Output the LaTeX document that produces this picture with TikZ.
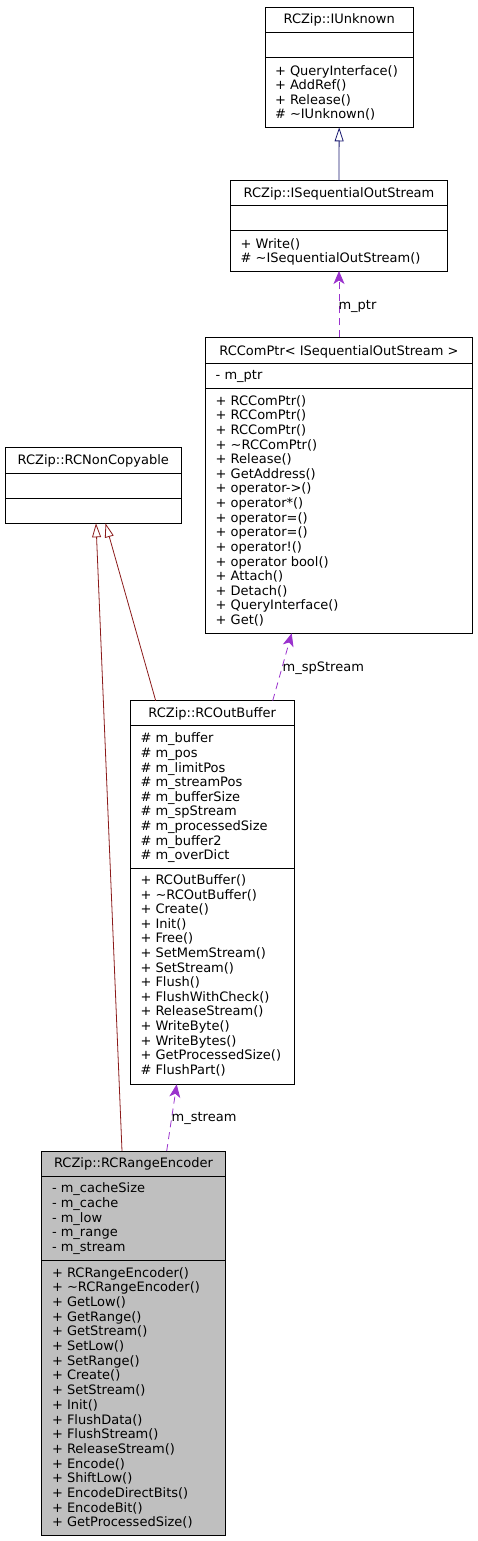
\documentclass[tikz,border=0pt]{standalone}
\usepackage{fontspec}
\setmainfont{DejaVu Sans}
\usetikzlibrary{arrows.meta,calc}
\definecolor{navyc}{HTML}{191970}
\definecolor{redc}{HTML}{8B1A1A}
\definecolor{purplec}{HTML}{9A32CD}
\definecolor{grayc}{HTML}{BFBFBF}
\tikzset{
 box/.style={draw=black, line width=0.8pt, rectangle, inner sep=0pt, outer sep=0pt, anchor=north west, fill=white},
 divl/.style={draw=black, line width=0.8pt},
 txt/.style={inner sep=0pt, outer sep=0pt, anchor=base west, font=\fontsize{13}{14.6}\selectfont, text=black},
 ttl/.style={txt, anchor=base},
 pubinh/.style={draw=navyc, line width=0.8pt, -{Triangle[fill=white, length=14pt, width=9pt]}},
 privinh/.style={draw=redc, line width=0.8pt, -{Triangle[fill=white, length=14pt, width=9pt]}},
 usage/.style={draw=purplec, line width=0.8pt, dash pattern=on 7pt off 5pt, -{Stealth[length=13pt, width=11pt, inset=3.5pt]}},
}
\begin{document}
\begin{tikzpicture}[x=1pt,y=-1pt]
\useasboundingbox (0,0) rectangle (477,1541);

% ---- RCZip::IUnknown
\node[box, minimum width=148.3pt, minimum height=120pt] (iu) at (265,7.3) {};
\draw[divl] (265,32.3) -- (413.3,32.3);
\draw[divl] (265,57.3) -- (413.3,57.3);
\node[ttl] (iu-t) at (339.2,23.5) {RCZip::IUnknown};
\foreach \t [count=\i from 0] in {+ QueryInterface(), + AddRef(), + Release(), \# \textasciitilde IUnknown()}
  \node[txt] (iu-m\i) at (275,{75.2+\i*14.6}) {\t};

% ---- RCZip::ISequentialOutStream
\node[box, minimum width=216.6pt, minimum height=90.3pt] (iseq) at (230.7,180.7) {};
\draw[divl] (230.7,205.3) -- (447.3,205.3);
\draw[divl] (230.7,230.7) -- (447.3,230.7);
\node[ttl] (iseq-t) at (339,197.2) {RCZip::ISequentialOutStream};
\foreach \t [count=\i from 0] in {+ Write(), \# \textasciitilde ISequentialOutStream()}
  \node[txt] (iseq-m\i) at (240.7,{248.2+\i*14.6}) {\t};

% ---- RCComPtr< ISequentialOutStream >
\node[box, minimum width=266.6pt, minimum height=296pt] (ptr) at (205.7,337.3) {};
\draw[divl] (205.7,363.3) -- (472.3,363.3);
\draw[divl] (205.7,388.3) -- (472.3,388.3);
\node[ttl] (ptr-t) at (339,355.2) {RCComPtr< ISequentialOutStream >};
\node[txt] (ptr-a0) at (215.7,379.5) {- m\_ptr};
\foreach \t [count=\i from 0] in {+ RCComPtr(), + RCComPtr(), + RCComPtr(), + \textasciitilde RCComPtr(), + Release(), + GetAddress(), + operator->(), + operator*(), + operator=(), + operator=(), + operator!(), + operator bool(), + Attach(), + Detach(), + QueryInterface(), + Get()}
  \node[txt] (ptr-m\i) at (215.7,{405.2+\i*14.62}) {\t};

% ---- RCZip::RCNonCopyable
\node[box, minimum width=176pt, minimum height=76pt] (nc) at (5.3,447.3) {};
\draw[divl] (5.3,473.3) -- (181.3,473.3);
\draw[divl] (5.3,498.3) -- (181.3,498.3);
\node[ttl] (nc-t) at (93.3,464.5) {RCZip::RCNonCopyable};

% ---- RCZip::RCOutBuffer
\node[box, minimum width=164.3pt, minimum height=383.6pt] (ob) at (130,700.7) {};
\draw[divl] (130,725) -- (294.3,725);
\draw[divl] (130,868.3) -- (294.3,868.3);
\node[ttl] (ob-t) at (212.2,717.2) {RCZip::RCOutBuffer};
\foreach \t [count=\i from 0] in {\# m\_buffer, \# m\_pos, \# m\_limitPos, \# m\_streamPos, \# m\_bufferSize, \# m\_spStream, \# m\_processedSize, \# m\_buffer2, \# m\_overDict}
  \node[txt] (ob-a\i) at (140.5,{742.8+\i*14.6}) {\t};
\foreach \t [count=\i from 0] in {+ RCOutBuffer(), + \textasciitilde RCOutBuffer(), + Create(), + Init(), + Free(), + SetMemStream(), + SetStream(), + Flush(), + FlushWithCheck(), + ReleaseStream(), + WriteByte(), + WriteBytes(), + GetProcessedSize(), \# FlushPart()}
  \node[txt] (ob-m\i) at (140.5,{884.5+\i*14.6}) {\t};

% ---- RCZip::RCRangeEncoder
\node[box, fill=grayc, minimum width=183.6pt, minimum height=384pt] (rre) at (41.7,1151) {};
\draw[divl] (41.7,1176.7) -- (225.3,1176.7);
\draw[divl] (41.7,1260.7) -- (225.3,1260.7);
\node[ttl] (rre-t) at (133.5,1167.2) {RCZip::RCRangeEncoder};
\foreach \t [count=\i from 0] in {- m\_cacheSize, - m\_cache, - m\_low, - m\_range, - m\_stream}
  \node[txt] (rre-a\i) at (52,{1192.8+\i*14.6}) {\t};
\foreach \t [count=\i from 0] in {+ RCRangeEncoder(), + \textasciitilde RCRangeEncoder(), + GetLow(), + GetRange(), + GetStream(), + SetLow(), + SetRange(), + Create(), + SetStream(), + Init(), + FlushData(), + FlushStream(), + ReleaseStream(), + Encode(), + ShiftLow(), + EncodeDirectBits(), + EncodeBit(), + GetProcessedSize()}
  \node[txt] (rre-m\i) at (52,{1277.2+\i*14.68}) {\t};

% ---- connectors
\draw[pubinh] (iseq.north) -- (iu.south);
\draw[usage] (ptr.north) -- (iseq.south);
\node[txt] (lbl-ptr) at (338.5,309) {m\_ptr};
\draw[privinh] ([xshift=80.3pt]rre.north west) -- ([xshift=90.7pt]nc.south west);
\draw[privinh] ([xshift=25.7pt]ob.north west) -- ([xshift=100.2pt]nc.south west);
\draw[usage] ([xshift=142.7pt]ob.north west) -- ([xshift=86pt]ptr.south west);
\node[txt] (lbl-sp) at (282.7,671) {m\_spStream};
\draw[usage] ([xshift=125pt]rre.north west) -- ([xshift=46.7pt]ob.south west);
\node[txt] (lbl-st) at (171.7,1121.5) {m\_stream};
\end{tikzpicture}
\end{document}
